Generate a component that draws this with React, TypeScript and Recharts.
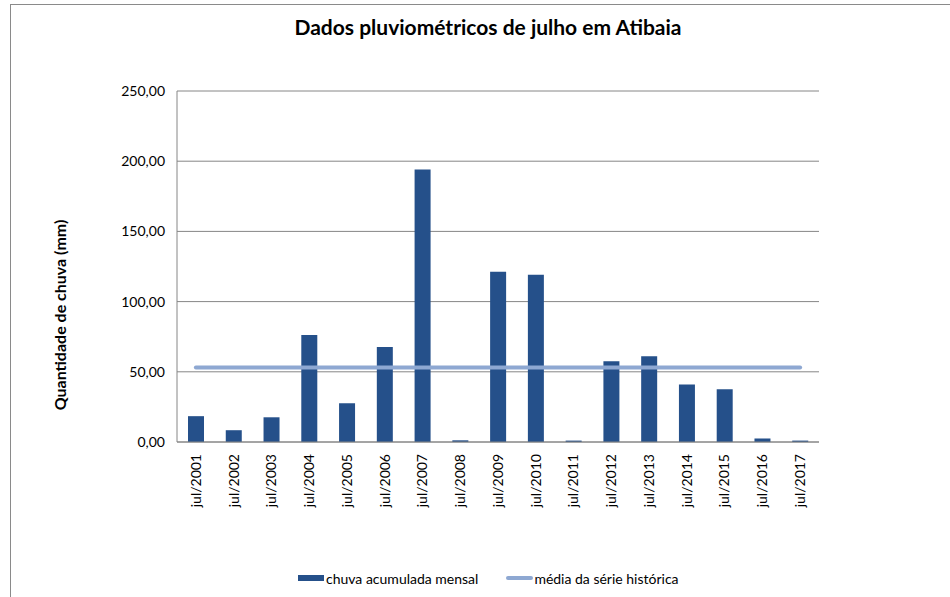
import React from "react";
import {
  ComposedChart,
  Bar,
  Line,
  XAxis,
  YAxis,
  CartesianGrid,
  Legend,
} from "recharts";

// categorias (meses de julho)
const categories = [
  "jul/2001",
  "jul/2002",
  "jul/2003",
  "jul/2004",
  "jul/2005",
  "jul/2006",
  "jul/2007",
  "jul/2008",
  "jul/2009",
  "jul/2010",
  "jul/2011",
  "jul/2012",
  "jul/2013",
  "jul/2014",
  "jul/2015",
  "jul/2016",
  "jul/2017",
];

// chuva acumulada mensal (mm)
const chuvaAcumulada = [
  18.4, 8.4, 17.6, 76.2, 27.6, 67.6, 194.1, 1.2, 121.2, 119.1, 1.0, 57.5, 61.0,
  41.0, 37.5, 2.5, 1.0,
];

// média da série histórica (mm), mesma para todos os meses
const mediaHistorica = 53.1;

const yTicks = [0, 50, 100, 150, 200, 250];

const data = categories.map((mes, i) => ({
  mes,
  chuva: chuvaAcumulada[i],
  media: mediaHistorica,
}));

const FONT = "Lato, 'Open Sans', sans-serif";
const BAR_COLOR = "#25508A";
const LINE_COLOR = "#8EA8D2";
const GRID_COLOR = "#868686";

const fmt = (v: number) => v.toFixed(2).replace(".", ",");

const XTick = (props: any) => {
  const { x, y, payload } = props;
  return (
    <text
      x={x}
      y={y + 4}
      dy="0.35em"
      transform={`rotate(-90, ${x}, ${y + 4})`}
      textAnchor="end"
      fontFamily={FONT}
      fontSize={14}
      fill="#000"
    >
      {payload.value}
    </text>
  );
};

const LegendContent = () => (
  <div
    style={{
      display: "flex",
      alignItems: "center",
      fontFamily: FONT,
      fontSize: 14,
      color: "#000",
      paddingLeft: 298,
      height: 20,
    }}
  >
    <span
      style={{
        display: "inline-block",
        width: 26,
        height: 6,
        background: BAR_COLOR,
        marginRight: 2,
      }}
    />
    <span>chuva acumulada mensal</span>
    <span
      style={{
        display: "inline-block",
        width: 27,
        height: 4,
        borderRadius: 2,
        background: LINE_COLOR,
        marginLeft: 28,
        marginRight: 1,
      }}
    />
    <span>média da série histórica</span>
  </div>
);

export default function App() {
  return (
    <div
      style={{
        position: "absolute",
        left: 0,
        top: 0,
        width: 950,
        height: 597,
        background: "#fff",
        overflow: "hidden",
      }}
    >
      {/* moldura do gráfico */}
      <div
        style={{
          position: "absolute",
          left: 10,
          top: 4,
          width: 960,
          height: 620,
          borderTop: "1px solid #8a8a8a",
          borderLeft: "1px solid #8a8a8a",
        }}
      />
      <div
        style={{
          position: "absolute",
          left: 0,
          top: 14,
          width: 976,
          textAlign: "center",
          fontFamily: FONT,
          fontWeight: 700,
          fontSize: 21,
          color: "#000",
        }}
      >
        Dados pluviométricos de julho em Atibaia
      </div>
      <ComposedChart
        width={950}
        height={597}
        data={data}
        margin={{ top: 91, right: 131, left: 97, bottom: 45 }}
        style={{ position: "absolute", left: 0, top: 0 }}
      >
        <CartesianGrid
          vertical={false}
          stroke={GRID_COLOR}
          strokeWidth={1}
        />
        <XAxis
          dataKey="mes"
          height={90}
          interval={0}
          tickLine={false}
          axisLine={{ stroke: GRID_COLOR }}
          tick={<XTick />}
        />
        <YAxis
          width={80}
          domain={[0, 250]}
          ticks={yTicks}
          tickFormatter={fmt}
          tickLine={false}
          tickSize={6}
          tickMargin={6}
          axisLine={{ stroke: GRID_COLOR }}
          tick={{ fontFamily: FONT, fontSize: 14, fill: "#000" }}
          label={{
            content: () => (
              <text
                x={60}
                y={315}
                transform="rotate(-90, 60, 315)"
                textAnchor="middle"
                dy="0.35em"
                fontFamily={FONT}
                fontWeight={700}
                fontSize={16}
                fill="#000"
              >
                Quantidade de chuva (mm)
              </text>
            ),
          }}
        />
        <Legend
          verticalAlign="bottom"
          content={<LegendContent />}
          wrapperStyle={{ top: 568, left: 0, width: 950, height: 20 }}
        />
        <Bar
          dataKey="chuva"
          name="chuva acumulada mensal"
          fill={BAR_COLOR}
          barSize={16}
          isAnimationActive={false}
        />
        <Line
          dataKey="media"
          name="média da série histórica"
          stroke={LINE_COLOR}
          strokeWidth={4}
          strokeLinecap="round"
          dot={false}
          activeDot={false}
          isAnimationActive={false}
        />
      </ComposedChart>
    </div>
  );
}
